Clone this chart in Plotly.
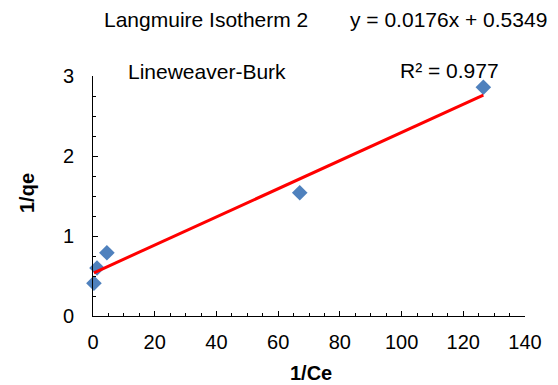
import plotly.graph_objects as go

inv_ce = [0.3, 1.3, 4.5, 67.0, 126.5]
inv_qe = [0.41, 0.60, 0.79, 1.54, 2.86]
slope = 0.0176
intercept = 0.5349
r2_text = "R² = 0.977"
eq_text = "y = 0.0176x + 0.5349"
title_text = "Langmuire Isotherm 2"
subtitle_text = "Lineweaver-Burk"
x_title = "1/Ce"
y_title = "1/qe"

x_fit = [min(inv_ce), max(inv_ce)]
y_fit = [slope * v + intercept for v in x_fit]

FONT = "Liberation Sans, Arial, sans-serif"
BLACK = "#000000"

fig = go.Figure()
fig.add_trace(go.Scatter(x=inv_ce, y=inv_qe, mode="markers",
                         marker=dict(symbol="diamond", size=12, color="#4F81BD"),
                         showlegend=False, cliponaxis=False))
fig.add_trace(go.Scatter(x=x_fit, y=y_fit, mode="lines",
                         line=dict(color="#FF0000", width=3), showlegend=False))

axis_common = dict(showgrid=False, zeroline=False, showline=True, linecolor=BLACK,
                   linewidth=1, ticks="inside", tickcolor=BLACK, ticklen=5,
                   tickfont=dict(family=FONT, size=20, color=BLACK))
fig.update_xaxes(range=[0, 140], dtick=20, tick0=0, ticklabelstandoff=8,
                 minor=dict(ticks="inside", dtick=5, ticklen=3, tickcolor=BLACK),
                 **axis_common)
fig.update_yaxes(range=[0, 3], dtick=1, tick0=0, ticklabelstandoff=14,
                 minor=dict(ticks="inside", dtick=0.25, ticklen=3, tickcolor=BLACK),
                 **axis_common)

ann_font = dict(family=FONT, size=21, color=BLACK)
bold_font = dict(family=FONT, size=20, color=BLACK)

def px_x(p):
    return (p - 93) / 432.0

def px_y(p):
    return (316 - p) / 240.0

fig.add_annotation(text=title_text, xref="paper", yref="paper", x=px_x(206), y=px_y(20),
                   xanchor="center", yanchor="middle", showarrow=False, font=ann_font)
fig.add_annotation(text=eq_text, xref="paper", yref="paper", x=px_x(448), y=px_y(20),
                   xanchor="center", yanchor="middle", showarrow=False, font=ann_font)
fig.add_annotation(text=subtitle_text, xref="paper", yref="paper", x=px_x(207), y=px_y(71),
                   xanchor="center", yanchor="middle", showarrow=False, font=ann_font)
fig.add_annotation(text=r2_text, xref="paper", yref="paper", x=px_x(449), y=px_y(70),
                   xanchor="center", yanchor="middle", showarrow=False, font=ann_font)
fig.add_annotation(text="<b>" + x_title + "</b>", xref="paper", yref="paper",
                   x=px_x(311), y=px_y(373), xanchor="center", yanchor="middle",
                   showarrow=False, font=bold_font)
fig.add_annotation(text="<b>" + y_title + "</b>", xref="paper", yref="paper",
                   x=px_x(27), y=px_y(193), xanchor="center", yanchor="middle",
                   textangle=-90, showarrow=False, font=bold_font)

fig.update_layout(width=558, height=385, margin=dict(l=93, r=33, t=76, b=69),
                  paper_bgcolor="#FFFFFF", plot_bgcolor="#FFFFFF",
                  font=dict(family=FONT, size=16, color=BLACK))

fig.write_html("out.html")
